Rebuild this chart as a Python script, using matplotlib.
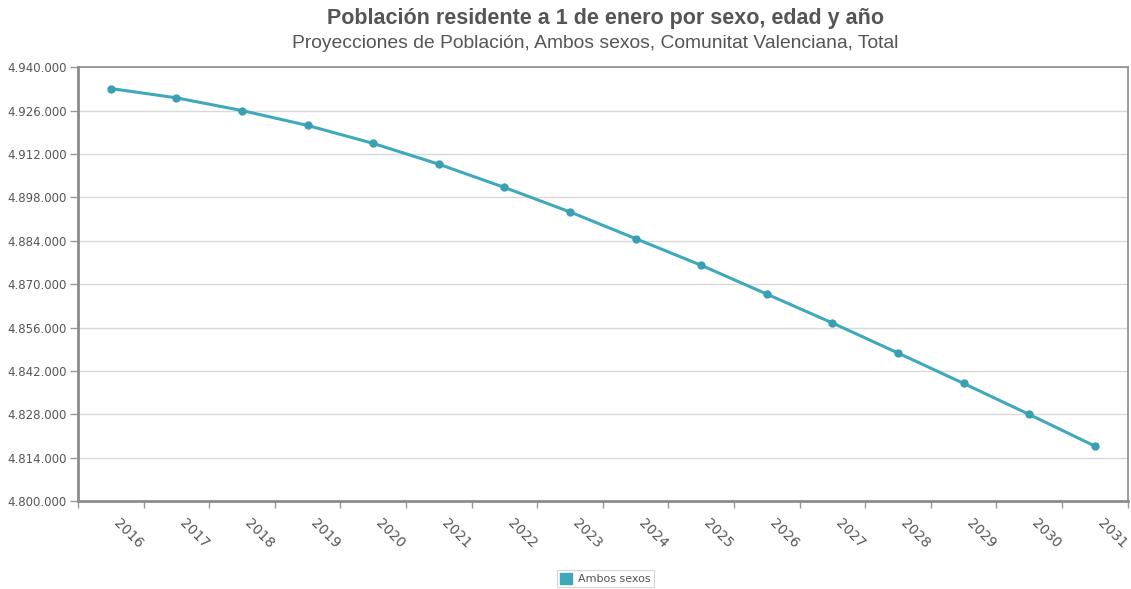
import matplotlib
matplotlib.use("Agg")
import matplotlib.pyplot as plt
from matplotlib.ticker import FuncFormatter, FixedLocator
from matplotlib.patches import Patch

years = ["2016", "2017", "2018", "2019", "2020", "2021", "2022", "2023",
         "2024", "2025", "2026", "2027", "2028", "2029", "2030", "2031"]
poblacion = [4933100, 4930100, 4926000, 4921200, 4915400, 4908700, 4901200, 4893300,
             4884700, 4876100, 4866800, 4857500, 4847800, 4838000, 4828000, 4817800]
y_ticks = [4800000, 4814000, 4828000, 4842000, 4856000, 4870000,
           4884000, 4898000, 4912000, 4926000, 4940000]

title = "Población residente a 1 de enero por sexo, edad y año"
subtitle = "Proyecciones de Población, Ambos sexos, Comunitat Valenciana, Total"
serie = "Ambos sexos"

color = "#3fa9bc"
text_grey = "#555555"

fig = plt.figure(figsize=(11.31, 5.89), dpi=100)
ax = fig.add_axes([0.069, 0.149, 0.928, 0.737])

x = list(range(len(years)))
ax.plot(x, poblacion, color=color, lw=2.2, marker="o", ms=5,
        markerfacecolor="#3a9fb2", markeredgecolor="#3a9fb2", zorder=3)

ax.set_xlim(-0.5, len(years) - 0.5)
ax.set_ylim(y_ticks[0], y_ticks[-1])
ax.set_yticks(y_ticks)
ax.yaxis.set_major_formatter(FuncFormatter(lambda v, _: f"{int(v):,}".replace(",", ".")))
ax.set_xticks(x)
ax.set_xticklabels(years, rotation=-45, ha="left", va="top", rotation_mode="default")
ax.xaxis.set_minor_locator(FixedLocator([i - 0.5 for i in range(len(years) + 1)]))

ax.tick_params(axis="x", which="major", length=0, pad=11, labelsize=10, labelcolor=text_grey)
ax.tick_params(axis="x", which="minor", length=5, width=1, color="#999999")
ax.tick_params(axis="y", length=6, width=1, color="#999999", labelsize=8.5,
               labelcolor=text_grey, pad=2)

ax.grid(axis="y", color="#d9d9d9", lw=1)
ax.set_axisbelow(True)
for side, sp in ax.spines.items():
    sp.set_color("#8c8c8c")
    sp.set_linewidth(2 if side in ("left", "bottom") else 1.2)

fig.text(0.535, 0.969, title, ha="center", va="center", fontsize=15.5,
         fontweight="bold", color="#555555", family="Liberation Sans")
fig.text(0.526, 0.926, subtitle, ha="center", va="center", fontsize=13.9,
         color="#555555", family="Liberation Sans")

handle = Patch(facecolor=color, edgecolor=color)
leg = fig.legend([handle], [serie], loc="center", bbox_to_anchor=(0.535, 0.018),
                 fontsize=8, frameon=True, fancybox=False, handlelength=1.1,
                 handleheight=1.1, borderpad=0.3, handletextpad=0.5, labelcolor=text_grey)
leg.get_frame().set_edgecolor("#cccccc")
leg.get_frame().set_linewidth(0.8)

fig.savefig("out.png", dpi=100)
